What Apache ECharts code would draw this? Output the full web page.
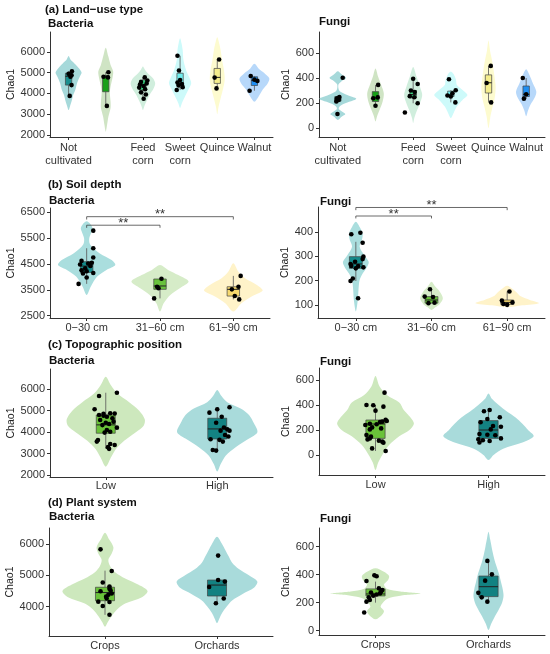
<!DOCTYPE html>
<html>
<head>
<meta charset="utf-8">
<script src="https://cdn.jsdelivr.net/npm/echarts@6/dist/echarts.min.js"></script>
<style>
  html, body { margin: 0; padding: 0; background: #fff; }
  #chart { width: 550px; height: 654px; }
</style>
</head>
<body>
<div id="chart"></div>
<script>
// ---- data (violin profiles: [value, half-width in category units]) ----

// (a) land-use type
const landUseCats = ["Not\ncultivated", "Alfalfa", "Feed\ncorn", "Sweet\ncorn", "Quince", "Walnut"]
const landUseBacTicks = [2000, 3000, 4000, 5000, 6000]
const landUseBacViolin = [
  [[5800,0],[5600,0.06],[5450,0.15],[5220,0.27],[5000,0.35],[4800,0.3],[4500,0.23],[4160,0.18],[3900,0.12],[3680,0.09],[3400,0.04],[3200,0]],
  [[6200,0],[5770,0.07],[5370,0.13],[5050,0.2],[4740,0.18],[4330,0.13],[4020,0.11],[3600,0.13],[3300,0.13],[2880,0.07],[2480,0.035],[2160,0]],
  [[5290,0],[5150,0.05],[4970,0.13],[4730,0.27],[4490,0.33],[4250,0.29],[3930,0.18],[3600,0.09],[3400,0.04],[3200,0]],
  [[6650,0],[6400,0.04],[6090,0.07],[5610,0.09],[5130,0.16],[4800,0.24],[4490,0.3],[4170,0.22],[3840,0.13],[3540,0.05],[3300,0]],
  [[6700,0],[6570,0.03],[6090,0.09],[5610,0.13],[5130,0.18],[4650,0.2],[4170,0.15],[3760,0.09],[3360,0.035],[3000,0]],
  [[5420,0],[5200,0.11],[4970,0.27],[4730,0.4],[4490,0.36],[4170,0.22],[3840,0.11],[3600,0]],
]
const landUseBacBox = [ // min, q1, median, q3, max
  [3880,4400,4820,4970,5060],[3400,4080,4790,4860,5020],[3740,4170,4400,4640,4770],
  [4160,4400,4480,4970,5810],[4240,4480,4770,5200,5630],[4130,4380,4630,4800,4840],
]
const landUseBacPoints = [ // [jitter, value]
  [[0.09,5060],[0.0,4940],[0.08,4870],[0.05,4800],[0.08,4400],[0.03,3880]],
  [[0.07,5020],[-0.06,4800],[0.06,4770],[0.03,3400]],
  [[0.05,4770],[0.12,4620],[-0.05,4550],[0.1,4480],[-0.08,4420],[0.02,4350],[-0.1,4280],[0.06,4200],[-0.05,4050],[0.08,3950],[0.02,3740]],
  [[-0.07,5810],[-0.03,5100],[0.0,4640],[-0.07,4520],[0.05,4450],[-0.04,4380],[0.07,4300],[-0.09,4160]],
  [[0.05,5630],[-0.07,4760],[-0.02,4240]],
  [[-0.1,4840],[0.0,4660],[0.08,4600],[-0.13,4130]],
]
const landUseFunTicks = [0, 200, 400, 600]
const landUseFunViolin = [
  [[455,0],[430,0.1],[400,0.22],[375,0.1],[350,0.02],[320,0.015],[295,0.05],[265,0.25],[235,0.49],[210,0.3],[185,0.1],[165,0.03],[150,0.03],[135,0.1],[112,0.2],[90,0.1],[65,0]],
  [[476,0],[410,0.07],[344,0.15],[278,0.22],[212,0.19],[146,0.11],[93,0.04],[53,0]],
  [[489,0],[410,0.09],[331,0.18],[264,0.24],[198,0.18],[132,0.09],[80,0.03],[40,0]],
  [[452,0],[423,0.09],[383,0.14],[344,0.16],[304,0.31],[264,0.44],[225,0.31],[172,0.16],[119,0.07],[80,0]],
  [[700,0],[621,0.04],[515,0.11],[410,0.16],[331,0.19],[251,0.17],[172,0.11],[93,0.05],[0,0]],
  [[470,0],[423,0.09],[357,0.18],[291,0.27],[240,0.22],[190,0.12],[140,0.05],[95,0]],
]
const landUseFunBox = [
  [212,215,228,250,252],[178,212,243,291,344],[198,240,268,300,394],
  [205,252,265,295,302],[205,280,362,425,497],[233,252,270,336,400],
]
const landUseFunPoints = [
  [[0.13,402],[0.04,248],[-0.02,238],[0.02,225],[-0.04,212],[-0.01,112]],
  [[0.07,345],[0.06,245],[-0.06,238],[0.0,178]],
  [[0.0,394],[0.12,352],[-0.06,300],[0.04,288],[-0.09,255],[0.03,246],[0.12,198],[-0.22,124]],
  [[-0.05,390],[0.13,302],[0.04,278],[-0.09,260],[0.0,252],[0.12,205]],
  [[0.06,497],[-0.05,360],[0.07,205]],
  [[-0.09,400],[0.0,270],[-0.06,235]],
]

// (b) soil depth
const depthCats = ["0\u221230 cm", "31\u221260 cm", "61\u221290 cm"]
const depthBacTicks = [2500, 3500, 4500, 5500, 6500]
const depthBacViolin = [
  [[6150,0],[6050,0.05],[5880,0.08],[5700,0.06],[5490,0.035],[5300,0.04],[5170,0.07],[4910,0.18],[4650,0.34],[4460,0.39],[4270,0.27],[4010,0.14],[3620,0.055],[3300,0]],
  [[4460,0],[4270,0.11],[4070,0.25],[3820,0.39],[3560,0.27],[3300,0.14],[2980,0.05],[2660,0]],
  [[4530,0],[4200,0.07],[3950,0.16],[3690,0.32],[3470,0.4],[3240,0.25],[2980,0.11],[2660,0]],
]
const depthBacBox = [[3730,4170,4420,4590,5110],[3170,3520,3650,3920,3930],[3130,3260,3520,3620,4040]]
const depthBacPoints = [
  [[0.09,5790],[0.09,5110],[0.09,4750],[-0.07,4620],[0.07,4550],[0.02,4520],[-0.09,4480],[0.05,4420],[-0.02,4330],[-0.07,4260],[0.0,4220],[0.09,4150],[-0.05,4130],[0.0,3980],[-0.11,3730]],
  [[0.02,3930],[-0.04,3620],[-0.02,3560],[-0.08,3170]],
  [[0.1,4040],[0.07,3620],[-0.02,3520],[0.02,3260],[0.08,3130]],
]
const depthBacSig = [[0, 1, 6000, 5900], [0, 2, 6330, 6220]] // from, to, level, tick end
const depthFunTicks = [100, 200, 300, 400]
const depthFunViolin = [
  [[441,0],[420,0.05],[393,0.09],[366,0.08],[339,0.05],[305,0.11],[277,0.17],[257,0.15],[229,0.09],[202,0.05],[161,0.035],[120,0.026],[73,0]],
  [[195,0],[175,0.05],[154,0.11],[127,0.15],[104,0.11],[90,0.05],[79,0]],
  [[178,0],[165,0.07],[150,0.13],[135,0.18],[120,0.3],[107,0.42],[98,0.2],[90,0]],
]
const depthFunBox = [[198,250,268,298,359],[106,107,120,134,164],[100,102,110,120,155]]
const depthFunPoints = [
  [[-0.06,390],[0.06,396],[0.09,355],[0.1,298],[0.09,288],[-0.01,277],[-0.07,268],[-0.06,260],[0.03,259],[0.1,254],[0.0,250],[-0.04,208],[-0.07,198],[0.03,127]],
  [[-0.02,164],[-0.09,134],[0.02,132],[-0.04,107],[0.04,109]],
  [[0.03,155],[-0.07,118],[0.07,110],[0.0,100],[-0.05,104]],
]
const depthFunSig = [[0, 1, 465, 455], [0, 2, 500, 489]]

// (c) topographic position
const topoCats = ["Low", "High"]
const topoBacTicks = [2000, 3000, 4000, 5000, 6000]
const topoBacViolin = [
  [[6590,0],[6200,0.045],[5800,0.105],[5400,0.21],[5000,0.3],[4600,0.35],[4300,0.34],[4000,0.27],[3600,0.165],[3200,0.09],[2800,0.045],[2390,0]],
  [[5970,0],[5700,0.036],[5400,0.09],[5100,0.21],[4800,0.285],[4400,0.33],[4000,0.36],[3700,0.285],[3300,0.165],[2900,0.075],[2500,0.03],[2160,0]],
]
const topoBacBox = [[3220,3950,4340,4800,5840],[3140,3680,4150,4650,5160]]
const topoBacPoints = [
  [[0.1,5840],[-0.06,5690],[-0.1,5070],[0.04,4880],[0.08,4870],[-0.02,4860],[-0.06,4800],[-0.02,4770],[0.01,4720],[0.06,4650],[-0.05,4570],[0.07,4490],[0.0,4440],[0.03,4380],[-0.03,4330],[0.1,4210],[0.01,4100],[0.04,4020],[-0.01,3980],[-0.07,3630],[-0.08,3560],[0.04,3450],[0.08,3400],[0.02,3300],[0.03,3220]],
  [[0.11,5160],[0.0,5070],[-0.07,4910],[0.04,4720],[-0.01,4440],[0.06,4220],[0.09,4130],[0.11,4070],[0.03,4070],[0.07,3870],[0.1,3800],[-0.06,3670],[0.02,3640],[0.05,3560],[-0.04,3170],[-0.01,3140]],
]
const topoFunTicks = [0, 200, 400, 600]
const topoFunViolin = [
  [[632,0],[550,0.035],[480,0.1],[420,0.21],[360,0.25],[300,0.31],[250,0.34],[200,0.3],[150,0.21],[80,0.12],[0,0.06],[-60,0.024],[-120,0]],
  [[493,0],[450,0.03],[400,0.09],[350,0.16],[300,0.24],[250,0.3],[200,0.35],[150,0.4],[100,0.3],[50,0.13],[0,0.045],[-40,0]],
]
const topoFunBox = [[32,133,248,280,400],[100,133,200,275,360]]
const topoFunPoints = [
  [[0.08,499],[-0.08,400],[-0.02,398],[0.07,387],[0.0,355],[0.09,282],[0.1,272],[0.06,267],[0.04,264],[-0.05,250],[0.01,246],[-0.09,240],[-0.03,221],[0.05,213],[-0.05,205],[-0.08,160],[-0.04,147],[-0.05,133],[-0.07,125],[0.03,115],[0.06,107],[0.07,99],[-0.03,53],[0.09,32]],
  [[0.01,360],[-0.04,350],[0.1,302],[-0.01,288],[-0.07,262],[0.04,232],[0.11,226],[0.02,205],[-0.08,168],[-0.01,162],[0.06,158],[0.11,133],[-0.09,126],[-0.05,118],[0.01,112],[-0.08,100]],
]

// (d) plant system
const plantCats = ["Crops", "Orchards"]
const plantBacTicks = [4000, 5000, 6000]
const plantBacViolin = [
  [[6360,0],[6150,0.036],[5900,0.075],[5700,0.06],[5500,0.03],[5300,0.045],[5100,0.09],[4900,0.18],[4700,0.3],[4500,0.38],[4300,0.33],[4100,0.18],[3900,0.105],[3700,0.06],[3500,0.024],[3360,0]],
  [[6230,0],[6000,0.045],[5800,0.075],[5600,0.105],[5400,0.135],[5200,0.195],[5000,0.285],[4800,0.36],[4600,0.33],[4400,0.225],[4200,0.135],[4000,0.085],[3800,0.045],[3600,0.018],[3470,0]],
]
const plantBacBox = [[3740,4190,4450,4620,5150],[4110,4340,4690,4850,4850]]
const plantBacPoints = [
  [[-0.04,5830],[0.06,5140],[-0.02,4770],[0.04,4640],[0.04,4570],[0.05,4520],[-0.04,4490],[0.06,4420],[0.03,4380],[0.01,4320],[0.015,4260],[-0.06,4160],[0.04,4150],[-0.02,4020],[0.04,3740]],
  [[0.01,5630],[0.01,4850],[0.07,4800],[-0.07,4630],[0.06,4260],[-0.01,4110]],
]
const plantFunTicks = [0, 200, 400, 600]
const plantFunViolin = [
  [[445,0],[420,0.075],[390,0.12],[360,0.11],[330,0.075],[300,0.1],[280,0.22],[265,0.4],[250,0.22],[230,0.11],[200,0.065],[170,0.045],[140,0.075],[110,0.055],[81,0]],
  [[707,0],[650,0.015],[600,0.027],[550,0.04],[500,0.055],[450,0.075],[400,0.095],[350,0.11],[300,0.125],[250,0.133],[200,0.12],[150,0.09],[100,0.055],[50,0.024],[5,0]],
]
const plantFunBox = [[200,248,262,298,350],[207,243,314,390,498]]
const plantFunPoints = [
  [[-0.01,395],[0.01,388],[-0.08,355],[0.03,302],[0.06,290],[0.05,280],[-0.04,272],[0.04,266],[0.01,258],[-0.02,250],[-0.06,238],[-0.05,219],[-0.08,207],[-0.1,130]],
  [[-0.01,498],[0.03,402],[-0.03,357],[-0.09,270],[-0.06,238],[-0.01,207]],
]

// ---- colours ----
const landUseViolinColors = ["#a6d9da", "#cfe4c4", "#d0eedd", "#cdfafa", "#fdfbcf", "#b7d8fa"]
const landUseBoxColors = ["#1b8f8f", "#18a018", "#3edc86", "#70eeee", "#f5ee8c", "#1f8ef2"]
const depthViolinColors = ["#aadede", "#d6ecc8", "#fff3c9"]
const depthBoxColors = ["#138a8a", "#68c23c", "#f7d96e"]
const twoViolinColors = ["#cde8bd", "#a9dbdb"]
const twoBoxColors = ["#6ac23a", "#138282"]

const FONT = "Liberation Sans, Arial, sans-serif"
const BOX_W = 0.17
const AXIS = "#333"

// ---- panel layout ----
const panels = [
  { cats: landUseCats, violin: landUseBacViolin, box: landUseBacBox, pts: landUseBacPoints, ticks: landUseBacTicks,
    vc: landUseViolinColors, bc: landUseBoxColors, y: [1904, 6952], grid: { left: 50, top: 32, width: 223, height: 105 }, gap: 33, lm: 4 },
  { cats: landUseCats, violin: landUseFunViolin, box: landUseFunBox, pts: landUseFunPoints, ticks: landUseFunTicks,
    vc: landUseViolinColors, bc: landUseBoxColors, y: [-72, 768], grid: { left: 319, top: 32, width: 226, height: 105 }, gap: 24, lm: 4 },
  { cats: depthCats, violin: depthBacViolin, box: depthBacBox, pts: depthBacPoints, ticks: depthBacTicks, sig: depthBacSig,
    vc: depthViolinColors, bc: depthBoxColors, y: [2411, 6666], grid: { left: 50, top: 208, width: 220, height: 110 }, gap: 33, lm: 3 },
  { cats: depthCats, violin: depthFunViolin, box: depthFunBox, pts: depthFunPoints, ticks: depthFunTicks, sig: depthFunSig,
    vc: depthViolinColors, bc: depthBoxColors, y: [46, 502], grid: { left: 318, top: 207, width: 227, height: 111 }, gap: 24, lm: 3 },
  { cats: topoCats, violin: topoBacViolin, box: topoBacBox, pts: topoBacPoints, ticks: topoBacTicks,
    vc: twoViolinColors, bc: twoBoxColors, y: [1907, 6947], grid: { left: 50, top: 369, width: 223, height: 108 }, gap: 33, lm: 2 },
  { cats: topoCats, violin: topoFunViolin, box: topoFunBox, pts: topoFunPoints, ticks: topoFunTicks,
    vc: twoViolinColors, bc: twoBoxColors, y: [-160, 696], grid: { left: 319, top: 368, width: 226, height: 107 }, gap: 24, lm: 3 },
  { cats: plantCats, violin: plantBacViolin, box: plantBacBox, pts: plantBacPoints, ticks: plantBacTicks,
    vc: twoViolinColors, bc: twoBoxColors, y: [3064, 6511], grid: { left: 49, top: 528, width: 224, height: 108 }, gap: 33, lm: 3 },
  { cats: plantCats, violin: plantFunViolin, box: plantFunBox, pts: plantFunPoints, ticks: plantFunTicks,
    vc: twoViolinColors, bc: twoBoxColors, y: [-31, 733], grid: { left: 319, top: 528, width: 226, height: 107 }, gap: 24, lm: 3 },
]

const titles = [
  ["(a) Land\u2212use type", 45, 4], ["Bacteria", 48, 18], ["Fungi", 319, 16],
  ["(b) Soil depth", 48, 179], ["Bacteria", 49, 195], ["Fungi", 320, 196],
  ["(c) Topographic position", 48, 339], ["Bacteria", 49, 355], ["Fungi", 320, 356],
  ["(d) Plant system", 48, 497], ["Bacteria", 49, 511], ["Fungi", 320, 513],
]

function violinRenderer(profiles) {
  return function (params, api) {
    const i = api.value(0)
    const prof = profiles[params.dataIndex]
    const right = prof.map(([v, w]) => api.coord([i + w, v]))
    const left = prof.slice(1, -1).reverse().map(([v, w]) => api.coord([i - w, v]))
    return {
      type: "polygon",
      shape: { points: right.concat(left), smooth: 0.3 },
      style: { fill: api.visual("color") },
    }
  }
}

function renderBox(params, api) {
  const i = api.value(0)
  const lo = api.value(1), q1 = api.value(2), md = api.value(3), q3 = api.value(4), hi = api.value(5)
  const h = BOX_W / 2
  const tl = api.coord([i - h, q3]), br = api.coord([i + h, q1])
  const mL = api.coord([i - h, md]), mR = api.coord([i + h, md])
  const top = api.coord([i, hi]), qt = api.coord([i, q3]), qb = api.coord([i, q1]), bot = api.coord([i, lo])
  const ws = { stroke: "#555", lineWidth: 0.8 }
  return {
    type: "group",
    children: [
      { type: "line", shape: { x1: top[0], y1: top[1], x2: qt[0], y2: qt[1] }, style: ws },
      { type: "line", shape: { x1: qb[0], y1: qb[1], x2: bot[0], y2: bot[1] }, style: ws },
      { type: "rect", shape: { x: tl[0], y: tl[1], width: br[0] - tl[0], height: br[1] - tl[1] },
        style: { fill: api.visual("color"), stroke: "#444", lineWidth: 0.7 } },
      { type: "line", shape: { x1: mL[0], y1: mL[1], x2: mR[0], y2: mR[1] }, style: { stroke: "#222", lineWidth: 1 } },
    ],
  }
}

function renderBracket(params, api) {
  const a = api.value(0), b = api.value(1), y = api.value(2), yd = api.value(3)
  const p1 = api.coord([a, yd]), p2 = api.coord([a, y]), p3 = api.coord([b, y]), p4 = api.coord([b, yd])
  const mid = api.coord([(a + b) / 2, y])
  return {
    type: "group",
    children: [
      { type: "polyline", shape: { points: [p1, p2, p3, p4] }, style: { stroke: "#444", lineWidth: 0.8, fill: null } },
      { type: "text", x: mid[0], y: mid[1] - 2,
        style: { text: "**", fontSize: 13, fontFamily: FONT, fill: "#333", align: "center", verticalAlign: "middle" } },
    ],
  }
}

const grid = [], xAxis = [], yAxis = [], series = []

panels.forEach((p, k) => {
  const n = p.cats.length
  const idx = p.cats.map((_, i) => i)
  grid.push(p.grid)
  xAxis.push({
    type: "value", gridIndex: k, min: -0.5, max: n - 0.5,
    splitLine: { show: false },
    axisLine: { show: true, onZero: false, lineStyle: { color: AXIS, width: 1 } },
    axisTick: { show: true, length: 3, customValues: idx, lineStyle: { color: AXIS } },
    axisLabel: {
      customValues: idx, margin: p.lm, color: "#333", fontSize: 11, lineHeight: 13, fontFamily: FONT,
      hideOverlap: false, showMinLabel: true, showMaxLabel: true,
      formatter: (v) => p.cats[Math.round(v)],
    },
  })
  yAxis.push({
    type: "value", gridIndex: k, min: p.y[0], max: p.y[1],
    name: "Chao1", nameLocation: "middle", nameGap: p.gap,
    nameTextStyle: { fontSize: 10.5, color: "#222", fontFamily: FONT },
    splitLine: { show: false },
    axisLine: { show: true, onZero: false, lineStyle: { color: AXIS, width: 1 } },
    axisTick: { show: true, length: 3, customValues: p.ticks, lineStyle: { color: AXIS } },
    axisLabel: { customValues: p.ticks, margin: 5, color: "#333", fontSize: 11, fontFamily: FONT,
      formatter: (v) => String(v) },
  })

  series.push({
    type: "custom", xAxisIndex: k, yAxisIndex: k, silent: true,
    renderItem: violinRenderer(p.violin),
    encode: { x: 0, y: 1 },
    data: p.violin.map((prof, i) => ({ value: [i, prof[0][0]], itemStyle: { color: p.vc[i] } })),
  })
  series.push({
    type: "custom", xAxisIndex: k, yAxisIndex: k, silent: true,
    renderItem: renderBox,
    encode: { x: 0, y: [1, 2, 3, 4, 5] },
    data: p.box.map((b, i) => ({ value: [i].concat(b), itemStyle: { color: p.bc[i] } })),
  })
  series.push({
    type: "scatter", xAxisIndex: k, yAxisIndex: k, silent: true,
    symbolSize: 4.6, itemStyle: { color: "#000", opacity: 1 },
    data: p.pts.flatMap((grp, i) => grp.map(([dx, v]) => [i + dx, v])),
  })
  if (p.sig) {
    series.push({
      type: "custom", xAxisIndex: k, yAxisIndex: k, silent: true,
      renderItem: renderBracket,
      encode: { x: [0, 1], y: [2, 3] },
      data: p.sig,
    })
  }
})

const chart = echarts.init(document.getElementById("chart"), null, { renderer: "canvas" })
chart.setOption({
  backgroundColor: "#fff",
  animation: false,
  textStyle: { fontFamily: FONT },
  title: titles.map(([text, left, top]) => ({
    text, left, top, padding: 0,
    textStyle: { fontSize: 11.5, fontWeight: "bold", color: "#111", fontFamily: FONT },
  })),
  grid, xAxis, yAxis, series,
})
</script>
</body>
</html>
